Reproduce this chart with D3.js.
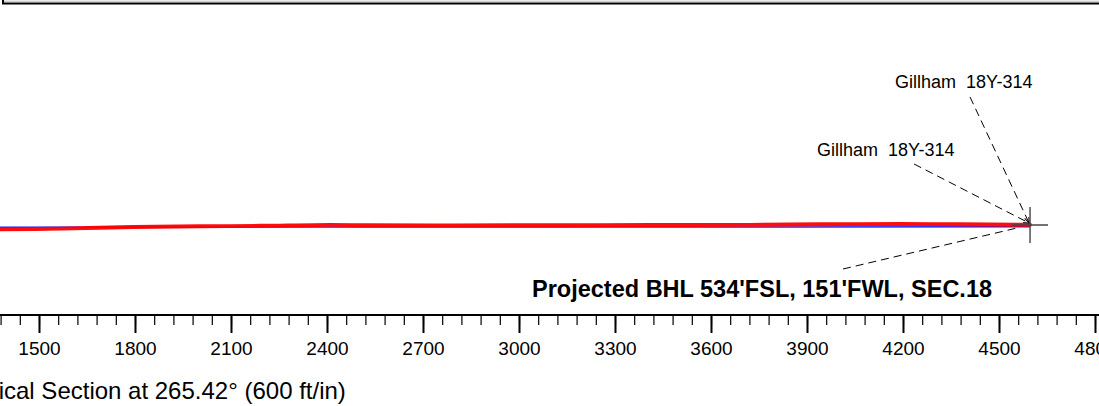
<!DOCTYPE html>
<html>
<head>
<meta charset="utf-8">
<script src="https://cdn.jsdelivr.net/npm/d3@7"></script>
<style>
  html, body { margin: 0; padding: 0; background: #fff; overflow: hidden; }
  text { font-family: "Liberation Sans", Arial, sans-serif; fill: #000; }
</style>
</head>
<body>
<svg class="section"></svg>
<script>
// vertical section (ft) and TVD (ft)
var planVS  = [1370, 4597];
var planTVD = [6057, 6055.5];

var actualVS  = [1370, 1566, 1794, 2003, 2191, 2409, 2534, 2784, 3097, 3409, 3722, 3941, 4191, 4378, 4597];
var actualTVD = [6063.5, 6061.3, 6056.3, 6054.1, 6052.5, 6049.7, 6050.9, 6051.3, 6050.6, 6050, 6049.7, 6047.8, 6046.9, 6047.8, 6049.4];

var bhlVS = 4597;
var bhlTVD = 6050;

var majorTicks = [1500, 1800, 2100, 2400, 2700, 3000, 3300, 3600, 3900, 4200, 4500, 4800];
var wellName = "Gillham  18Y-314";
var bhlLabel = "Projected BHL 534'FSL, 151'FWL, SEC.18";
var axisTitle = "Vertical Section at 265.42\u00b0 (600 ft/in)";

var width = 1099, height = 406;

var svg = d3.select(".section")
    .attr("width", width)
    .attr("height", height);

// 600 ft/in both ways -> same px per ft on x and y
var x = d3.scaleLinear().domain([1500, 4500]).range([39, 999]);
var y = d3.scaleLinear().domain([6050, 6150]).range([225, 257]);

// box edge at the top (title block, cut off)
svg.append("line")
    .attr("x1", 4).attr("x2", width)
    .attr("y1", 1.2).attr("y2", 1.2)
    .attr("stroke", "#bbb")
    .attr("stroke-width", 1);

svg.append("rect")
    .attr("x", 3)
    .attr("y", -20)
    .attr("width", width + 20)
    .attr("height", 23.5)
    .attr("fill", "none")
    .attr("stroke", "#000")
    .attr("stroke-width", 2);

// well paths
var line = d3.line()
    .x(function(d) { return x(d[0]); })
    .y(function(d) { return y(d[1]); });

svg.append("path")
    .datum(d3.zip(planVS, planTVD))
    .attr("d", line)
    .attr("fill", "none")
    .attr("stroke", "#2020ff")
    .attr("stroke-width", 1.5);

svg.append("path")
    .datum(d3.zip(actualVS, actualTVD))
    .attr("d", line.curve(d3.curveCatmullRom))
    .attr("fill", "none")
    .attr("stroke", "#ff0000")
    .attr("stroke-width", 3.9)
    .attr("stroke-linecap", "round")
    .attr("opacity", 0.95);

// BHL cross
var bx = x(bhlVS), by = y(bhlTVD);

svg.append("line")
    .attr("x1", bx - 18).attr("x2", bx + 18)
    .attr("y1", by).attr("y2", by)
    .attr("stroke", "#444")
    .attr("stroke-width", 1.4);

svg.append("line")
    .attr("x1", bx).attr("x2", bx)
    .attr("y1", by - 18).attr("y2", by + 18)
    .attr("stroke", "#444")
    .attr("stroke-width", 1.4);

// leaders
svg.append("defs").append("marker")
    .attr("id", "arr")
    .attr("viewBox", "0 0 10 10")
    .attr("refX", 10).attr("refY", 5)
    .attr("markerWidth", 6).attr("markerHeight", 6)
    .attr("orient", "auto")
  .append("path")
    .attr("d", "M0,1L10,5L0,9")
    .attr("fill", "none")
    .attr("stroke", "#000")
    .attr("stroke-width", 1.2);

function leader(dx1, dy1, dx2, dy2, arrow) {
  var l = svg.append("line")
      .attr("x1", bx + dx1).attr("y1", by + dy1)
      .attr("x2", bx + dx2).attr("y2", by + dy2)
      .attr("stroke", "#000")
      .attr("stroke-width", 1)
      .attr("stroke-dasharray", "8,5");
  if (arrow) l.attr("marker-end", "url(#arr)");
}

leader(-60, -128, -1, -2, true);
leader(-116, -61, -1, -2, true);
leader(-187, 44, -13, 3, false);

svg.append("text")
    .attr("x", bx - 135)
    .attr("y", by - 137)
    .style("font-size", "18px")
    .style("white-space", "pre")
    .text(wellName);

svg.append("text")
    .attr("x", bx - 213)
    .attr("y", by - 69)
    .style("font-size", "18px")
    .style("white-space", "pre")
    .text(wellName);

svg.append("text")
    .attr("x", bx - 498)
    .attr("y", by + 72)
    .style("font-size", "23.5px")
    .style("font-weight", "bold")
    .text(bhlLabel);

// x axis
var axisY = 315;

var minor = svg.append("g")
    .attr("transform", "translate(0," + axisY + ")")
    .call(d3.axisBottom(x)
        .tickValues(d3.range(1380, 4861, 60))
        .tickSize(10)
        .tickFormat(""));
minor.select(".domain").remove();
minor.selectAll("line").attr("stroke", "#000").attr("stroke-width", 1.2);

var major = svg.append("g")
    .attr("transform", "translate(0," + axisY + ")")
    .call(d3.axisBottom(x)
        .tickValues(majorTicks)
        .tickSize(18)
        .tickSizeOuter(0)
        .tickFormat(d3.format("d")));

major.select(".domain")
    .attr("d", "M-10,0H" + (width + 10))
    .attr("stroke", "#000")
    .attr("stroke-width", 2);
major.selectAll(".tick line").attr("stroke", "#000").attr("stroke-width", 2);
major.selectAll(".tick text")
    .attr("y", 40)
    .attr("dy", null)
    .style("font-size", "19px")
    .style("font-family", "'Liberation Sans', Arial, sans-serif")
    .attr("fill", "#000");

svg.append("text")
    .attr("x", -44)
    .attr("y", 399)
    .style("font-size", "24px")
    .text(axisTitle);
</script>
</body>
</html>
